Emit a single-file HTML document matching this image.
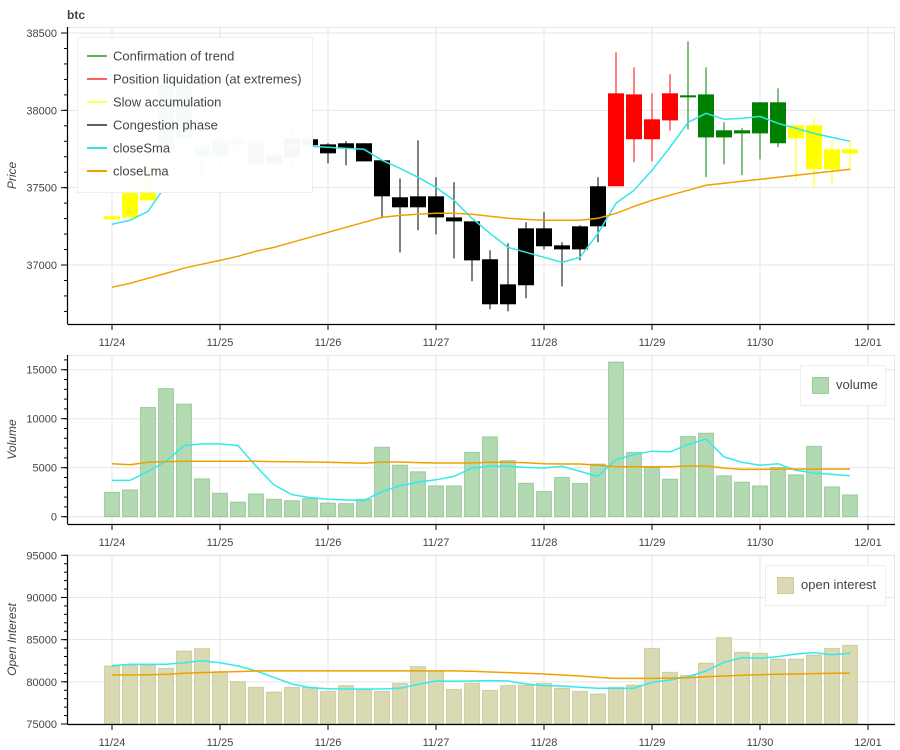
<!DOCTYPE html>
<html><head><meta charset="utf-8">
<style>
html,body{margin:0;padding:0;background:#fff;}
svg{display:block;font-family:"Liberation Sans",sans-serif;}
</style></head>
<body>
<svg id="chart" width="900" height="750" viewBox="0 0 900 750"></svg>
<script>
const categories = ["11/24 00h","11/24 04h","11/24 08h","11/24 12h","11/24 16h","11/24 20h","11/25 00h","11/25 04h","11/25 08h","11/25 12h","11/25 16h","11/25 20h","11/26 00h","11/26 04h","11/26 08h","11/26 12h","11/26 16h","11/26 20h","11/27 00h","11/27 04h","11/27 08h","11/27 12h","11/27 16h","11/27 20h","11/28 00h","11/28 04h","11/28 08h","11/28 12h","11/28 16h","11/28 20h","11/29 00h","11/29 04h","11/29 08h","11/29 12h","11/29 16h","11/29 20h","11/30 00h","11/30 04h","11/30 08h","11/30 12h","11/30 16h","11/30 20h"];
const dayLabels = ["11/24","11/25","11/26","11/27","11/28","11/29","11/30","12/01"];
const openP  = [37295,37308,37418,37741,37819,37709,37709,37806,37793,37657,37696,37813,37780,37787,37787,37677,37438,37444,37444,37308,37282,37037,36875,37237,37237,37127,37250,37509,37509,38103,37813,37935,38097,38103,37825,37851,37851,38052,37903,37903,37619,37748];
const closeP = [37315,37470,37677,38162,38162,37761,37806,37787,37657,37709,37819,37774,37722,37754,37670,37444,37373,37373,37308,37282,37030,36746,36746,36869,37121,37101,37101,37250,38110,37813,37942,38110,38090,37825,37871,37871,38052,37787,37819,37619,37748,37722];
const highP  = [37340,37560,37806,38226,38226,37806,37871,37838,37838,37741,37871,37838,37787,37800,37787,37677,37560,37806,37567,37535,37282,37095,37140,37276,37341,37147,37257,37567,38375,38278,38110,38233,38446,38278,37922,37884,38052,38142,37903,37955,37806,37806];
const lowP   = [37290,37290,37418,37696,37741,37580,37644,37741,37612,37612,37644,37741,37657,37644,37670,37302,37082,37225,37198,37043,36895,36714,36701,36785,37101,36862,37030,37147,37509,37664,37670,37870,37877,37567,37651,37580,37683,37761,37548,37496,37528,37606];
const candleGroup = ["slow","slow","slow","trend","trend","trend","trend","trend","trend","cong","cong","cong","cong","cong","cong","cong","cong","cong","cong","cong","cong","cong","cong","cong","cong","cong","cong","cong","liq","liq","liq","liq","trend","trend","trend","trend","trend","trend","slow","slow","slow","slow"];
const closeSma = [37263,37289,37347,37515,37677,37754,37806,37819,37806,37787,37774,37767,37761,37754,37748,37677,37625,37567,37502,37418,37302,37205,37114,37082,37050,37017,37050,37205,37399,37483,37612,37761,37922,37981,37942,37948,37961,37916,37884,37851,37825,37800];
const closeLma = [36856,36882,36914,36946,36979,37005,37030,37056,37089,37114,37147,37179,37211,37244,37276,37308,37321,37328,37334,37334,37328,37315,37302,37295,37289,37289,37289,37302,37334,37379,37418,37451,37483,37515,37528,37541,37554,37567,37580,37593,37606,37619];
const volume = [2500,2740,11160,13080,11500,3870,2400,1500,2330,1780,1640,1850,1400,1340,1780,7090,5270,4590,3150,3150,6570,8150,5720,3420,2570,4000,3390,5380,15790,6570,5030,3840,8180,8530,4180,3530,3150,5030,4280,7190,3050,2230];
const volSma = [3700,3700,4620,5650,7260,7430,7430,7260,5140,3250,2260,1950,1780,1710,1640,2570,3150,3530,3770,4110,4970,5140,5140,5030,4970,5140,4620,4110,5820,6340,6680,6610,7360,7950,6100,5550,5240,5410,4730,4450,4320,4180];
const volLma = [5410,5310,5550,5620,5650,5650,5650,5650,5650,5620,5600,5580,5550,5500,5450,5580,5580,5520,5480,5480,5480,5550,5550,5500,5400,5380,5380,5240,5100,5100,5100,5100,5170,5170,4970,4830,4830,4860,4860,4860,4860,4860];
const openInterest = [81880,82000,82000,81600,83660,83930,81210,80020,79350,78790,79350,79350,78870,79550,79110,78870,79820,81800,81290,79110,79820,78990,79550,79590,79820,79270,78870,78560,79350,79620,83970,81130,80770,82230,85240,83500,83380,82710,82710,83180,83970,84330];
const oiSma = [81920,82080,82080,82080,82270,82510,82270,81880,81290,80530,79740,79310,79190,79150,79150,79150,79230,79700,80100,80060,80100,80140,80100,79740,79550,79510,79350,79230,79230,79230,79940,80220,80610,81290,82310,82870,82790,82990,83300,83460,83220,83380];
const oiLma = [80810,80810,80850,80890,81010,81090,81170,81210,81290,81290,81290,81290,81290,81290,81290,81290,81290,81290,81290,81290,81250,81170,81090,81010,80930,80810,80690,80530,80410,80410,80410,80450,80490,80610,80690,80770,80850,80890,80930,80970,81010,81010];
const priceTicks = [37000,37500,38000,38500];
const volTicks = [0,5000,10000,15000];
const oiTicks = [75000,80000,85000,90000,95000];

const svg = document.getElementById('chart');
const NS = 'http://www.w3.org/2000/svg';
function mk(tag, attrs, parent){
  const e = document.createElementNS(NS, tag);
  for (const k in attrs) e.setAttribute(k, attrs[k]);
  (parent||svg).appendChild(e);
  return e;
}
const X0 = 68, X1 = 895;
const xDay0 = 112, pxPerDay = 108;
function xIdx(i){ return xDay0 + i * pxPerDay / 6; }
function xDay(d){ return xDay0 + d * pxPerDay; }
function linY(v0, y0, v1, y1){ return v => y0 + (v - v0) * (y1 - y0) / (v1 - v0); }

const yP = linY(37000, 265, 38500, 33);
const yV = linY(0, 516.7, 15000, 369.7);
const yO = linY(75000, 724, 95000, 555.3);

const colors = {trend:'#008000', liq:'#ff0000', slow:'#ffff00', cong:'#000000'};

function panel(name, top, bottom, yFn, ticks, minorStep, minV, maxV, label){
  const g = mk('g', {});
  
  
  for (let d = 0; d < dayLabels.length; d++){
    const l = mk('line', {x1:xDay(d), x2:xDay(d), y1:top, y2:bottom, stroke:'#e5e5e5', 'stroke-width':1}, g);
    
    
  }
  ticks.forEach(t => {
    const y = yFn(t);
    const l = mk('line', {x1:X0, x2:X1, y1:y, y2:y, stroke:'#e5e5e5', 'stroke-width':1}, g);
    
    
  });
  mk('line', {x1:X0, x2:X1, y1:top+0.5, y2:top+0.5, stroke:'#e5e5e5'}, g);
  mk('line', {x1:X1-0.5, x2:X1-0.5, y1:top, y2:bottom, stroke:'#e5e5e5'}, g);
  const plot = mk('g', {}, g);
  
  
  const ax = mk('g', {});
  
  
  mk('line', {x1:X0-0.5, x2:X0-0.5, y1:top, y2:bottom, stroke:'#000', 'stroke-width':1.2}, ax);
  mk('line', {x1:X0-0.5, x2:X1, y1:bottom+0.5, y2:bottom+0.5, stroke:'#000', 'stroke-width':1.2}, ax);
  for (let v = Math.ceil(minV/minorStep)*minorStep; v <= maxV; v += minorStep){
    const y = yFn(v);
    if (y < top-1 || y > bottom+1) continue;
    mk('line', {x1:X0-4, x2:X0, y1:y, y2:y, stroke:'#000'}, ax);
  }
  ticks.forEach(t => {
    const y = yFn(t);
    mk('line', {x1:X0-7, x2:X0, y1:y, y2:y, stroke:'#000'}, ax);
    const tx = mk('text', {x:57, y:y+4, 'text-anchor':'end', 'font-size':11, fill:'#444'}, ax);
    tx.textContent = t;
    
    
  });
  dayLabels.forEach((d, i) => {
    const x = xDay(i);
    mk('line', {x1:x, x2:x, y1:bottom, y2:bottom+6, stroke:'#000'}, ax);
    const tx = mk('text', {x:x, y:bottom+22, 'text-anchor':'middle', 'font-size':11, fill:'#444'}, ax);
    tx.textContent = d;
    
    
  });
  const cy = (top + bottom) / 2;
  const yl = mk('text', {x:0, y:0, transform:`translate(16,${cy}) rotate(-90)`, 'text-anchor':'middle', 'font-size':12, 'font-style':'italic', fill:'#444'}, ax);
  yl.textContent = label;
  
  
  return plot;
}

function line(parent, arr, yFn, color, name){
  const pts = arr.map((v, i) => xIdx(i).toFixed(1) + ',' + yFn(v).toFixed(1)).join(' ');
  const p = mk('polyline', {points:pts, fill:'none', stroke:color, 'stroke-width':1.5}, parent);
  
  
}

const title = mk('text', {x:67, y:19, 'font-size':12, 'font-weight':'bold', fill:'#444'});
title.textContent = 'btc';



const pp = panel('price', 27, 324, yP, priceTicks, 100, 36600, 38550, 'Price');
categories.forEach((c, i) => {
  const x = xIdx(i), col = colors[candleGroup[i]];
  const w = mk('line', {x1:x, x2:x, y1:yP(highP[i]), y2:yP(lowP[i]), stroke:col, 'stroke-width':1}, pp);
  
  
  const t = Math.min(yP(openP[i]), yP(closeP[i])), b = Math.max(yP(openP[i]), yP(closeP[i]));
  const r = mk('rect', {x:x-8, y:t, width:16, height:Math.max(b-t, 2), fill:col}, pp);
  
  
});
line(pp, closeSma, yP, '#33e5e5', 'close-sma-line');
line(pp, closeLma, yP, '#f0a000', 'close-lma-line');

const vp = panel('volume', 355, 524, yV, volTicks, 1000, 0, 16500, 'Volume');
volume.forEach((v, i) => {
  const x = xIdx(i), y = yV(v);
  const r = mk('rect', {x:x-7.5, y:y, width:15, height:yV(0)-y, fill:'rgb(179,217,179)', stroke:'rgba(0,128,0,0.25)'}, vp);
  
  
});
line(vp, volSma, yV, '#33eaea', 'volume-sma-line');
line(vp, volLma, yV, '#f0a000', 'volume-lma-line');

const op = panel('open-interest', 555, 724, yO, oiTicks, 1000, 75000, 95000, 'Open Interest');
openInterest.forEach((v, i) => {
  const x = xIdx(i), y = yO(v);
  const r = mk('rect', {x:x-7.5, y:y, width:15, height:yO(75000)-y, fill:'rgb(217,217,179)', stroke:'rgba(128,128,0,0.25)'}, op);
  
  
});
line(op, oiSma, yO, '#33eaea', 'oi-sma-line');
line(op, oiLma, yO, '#f0a000', 'oi-lma-line');

(function(){
  const lg = mk('g', {});
  
  
  mk('rect', {x:77.5, y:37.5, width:235, height:155, fill:'rgba(255,255,255,0.97)', stroke:'#eeeeee'}, lg);
  const entries = [['Confirmation of trend','#008000'],['Position liquidation (at extremes)','#ff0000'],['Slow accumulation','#ffff00'],['Congestion phase','#000000'],['closeSma','#33e5e5'],['closeLma','#f0a000']];
  entries.forEach((e, i) => {
    const y = 56 + i * 23;
    const it = mk('g', {}, lg);
    
    
    mk('line', {x1:87, x2:107, y1:y, y2:y, stroke:e[1], 'stroke-width':(i>=4?2:1.2)}, it);
    const t = mk('text', {x:113, y:y+4.5, 'font-size':13, fill:'#444'}, it);
    t.textContent = e[0];
  });
  const vl = mk('g', {});
  
  
  mk('rect', {x:800.5, y:365.5, width:85, height:40, fill:'#fff', stroke:'#eeeeee'}, vl);
  mk('rect', {x:812.5, y:377.5, width:16, height:16, fill:'rgb(179,217,179)', stroke:'rgba(0,128,0,0.3)'}, vl);
  const vt = mk('text', {x:836, y:389, 'font-size':13, fill:'#444'}, vl);
  vt.textContent = 'volume';
  const ol = mk('g', {});
  
  
  mk('rect', {x:765.5, y:565.5, width:120, height:40, fill:'#fff', stroke:'#eeeeee'}, ol);
  mk('rect', {x:777.5, y:577.5, width:16, height:16, fill:'rgb(217,217,179)', stroke:'rgba(128,128,0,0.3)'}, ol);
  const ot = mk('text', {x:801, y:589, 'font-size':13, fill:'#444'}, ol);
  ot.textContent = 'open interest';
})();
</script>
</body></html>
